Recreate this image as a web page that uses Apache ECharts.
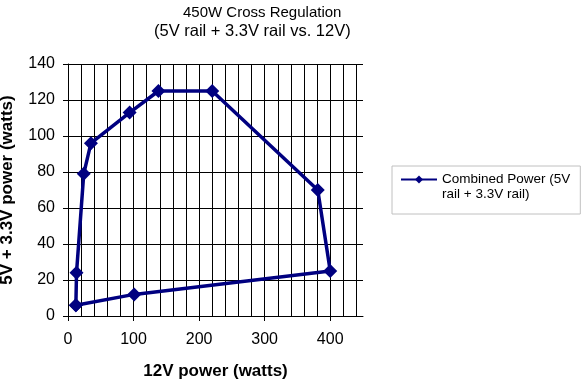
<!DOCTYPE html>
<html>
<head>
<meta charset="utf-8">
<script src="https://cdn.jsdelivr.net/npm/echarts@6/dist/echarts.min.js"></script>
<style>html,body{margin:0;padding:0;background:#fff;}#c{width:585px;height:390px;}</style>
</head>
<body>
<div id="c"></div>
<script>
const titleLines = ['450W Cross Regulation', '(5V rail + 3.3V rail vs. 12V)'];
const seriesName = 'Combined Power (5V\nrail + 3.3V rail)';
const xName = '12V power (watts)';
const yName = '5V + 3.3V power (watts)';
const xPower12V = [12, 13, 24, 35, 94, 138, 220, 381, 400, 101, 12];
const yPower5V33V = [6, 24, 79, 96, 113, 125, 125, 70, 25, 12, 6];

const FONT = '"Liberation Sans", Arial, sans-serif';
const chart = echarts.init(document.getElementById('c'), null, {renderer: 'canvas'});
const data = xPower12V.map((x, i) => [x, yPower5V33V[i]]);

chart.setOption({
  animation: false,
  backgroundColor: '#fff',
  title: [
    {text: titleLines[0], left: 183, top: 5, padding: 0,
     textStyle: {fontFamily: FONT, fontSize: 15, fontWeight: 'normal', color: '#000'}},
    {text: titleLines[1], left: 154, top: 23, padding: 0,
     textStyle: {fontFamily: FONT, fontSize: 16.5, fontWeight: 'normal', color: '#000'}}
  ],
  legend: {
    left: 392, top: 166, orient: 'vertical',
    itemWidth: 36, itemHeight: 10,
    padding: [-9, 10, 12, 8],
    borderColor: '#c0c0c0', borderWidth: 1,
    formatter: function (name) { return '\n' + name; },
    textStyle: {fontFamily: FONT, fontSize: 13.5, lineHeight: 15, color: '#000'},
    data: [seriesName]
  },
  grid: [
    {left: 68, top: 64, width: 295, height: 252, outerBoundsMode: 'none', containLabel: false},
    {left: 68, top: 64, width: 262.2, height: 252, outerBoundsMode: 'none', containLabel: false}
  ],
  xAxis: [
    {type: 'value', gridIndex: 0, min: 0, max: 450, interval: 20,
     name: xName, nameLocation: 'middle', nameGap: 47,
     nameTextStyle: {fontFamily: FONT, fontSize: 17, fontWeight: 'bold', color: '#000'},
     axisLine: {show: true, lineStyle: {color: '#000', width: 1}},
     axisTick: {show: false}, axisLabel: {show: false},
     splitLine: {show: true, showMinLine: false, showMaxLine: false, lineStyle: {color: '#000', width: 1}}},
    {type: 'value', gridIndex: 1, min: 0, max: 400, interval: 100,
     axisLine: {show: false},
     axisTick: {show: true, length: 5, lineStyle: {color: '#000'}},
     axisLabel: {show: true, margin: 16, fontFamily: FONT, fontSize: 16, color: '#000'},
     splitLine: {show: false}}
  ],
  yAxis: [
    {type: 'value', gridIndex: 0, min: 0, max: 140, interval: 20,
     name: yName, nameLocation: 'middle', nameGap: 52,
     nameTextStyle: {fontFamily: FONT, fontSize: 17, fontWeight: 'bold', color: '#000'},
     axisLine: {show: true, lineStyle: {color: '#000', width: 1}},
     axisTick: {show: true, length: 5, lineStyle: {color: '#000'}},
     axisLabel: {margin: 13, fontFamily: FONT, fontSize: 16, color: '#000'},
     splitLine: {show: true, lineStyle: {color: '#000', width: 1}}},
    {type: 'value', gridIndex: 1, min: 0, max: 140, show: false}
  ],
  series: [{
    name: seriesName,
    type: 'line',
    xAxisIndex: 0, yAxisIndex: 0,
    data: data,
    symbol: 'diamond', symbolSize: 14,
    lineStyle: {color: '#000080', width: 3.5},
    itemStyle: {color: '#000080'},
    z: 5
  }]
});
</script>
</body>
</html>
